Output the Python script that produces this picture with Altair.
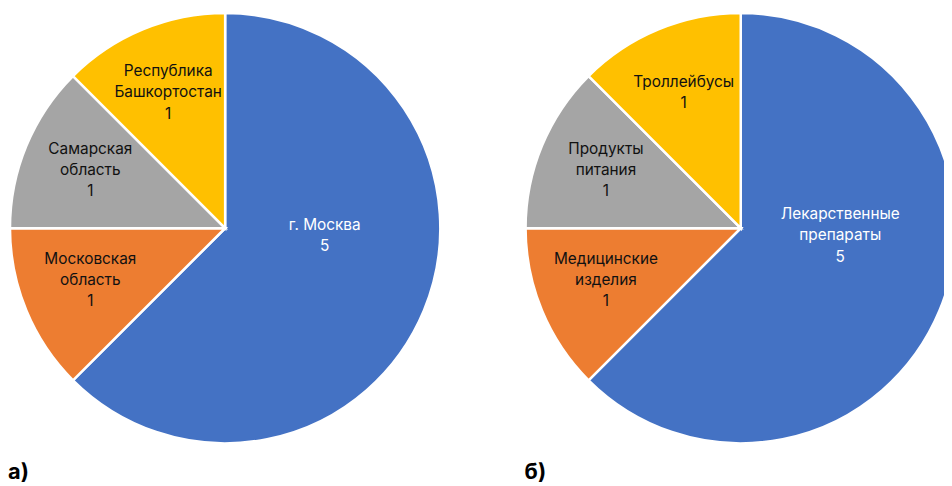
import altair as alt
import pandas as pd

# ---- data ----
cats_a = ["г. Москва", "Московская область", "Самарская область", "Республика Башкортостан"]
lines_a = ["г. Москва", "Московская\nобласть", "Самарская\nобласть", "Республика\nБашкортостан"]
vals_a = [5, 1, 1, 1]

cats_b = ["Лекарственные препараты", "Медицинские изделия", "Продукты питания", "Троллейбусы"]
lines_b = ["Лекарственные\nпрепараты", "Медицинские\nизделия", "Продукты\nпитания", "Троллейбусы"]
vals_b = [5, 1, 1, 1]

panel_letters = ["а)", "б)"]
colors = ["#4472C4", "#ED7D31", "#A5A5A5", "#FFC000"]

FONT = "Inter"
FS = 15.5
LH = 21.5


def make_df(cats, lines, vals):
    return pd.DataFrame({
        "cat": cats,
        "val": vals,
        "idx": list(range(len(cats))),
        "label": [f"{l}\n{v}" for l, v in zip(lines, vals)],
    })


def pie(df, cx, cy, big_cat):
    base = alt.Chart(df).encode(
        theta=alt.Theta("val:Q", stack=True),
        order=alt.Order("idx:Q"),
    )
    arc = base.mark_arc(x=cx, y=cy, outerRadius=217, stroke="white", strokeWidth=2.5).encode(
        color=alt.Color("cat:N", scale=alt.Scale(domain=list(df["cat"]), range=colors), legend=None)
    )
    big = base.transform_calculate(
        t=f"datum.cat == '{big_cat}' ? datum.label : ''"
    ).mark_text(
        x=cx, y=cy, radius=100, dx=8,
        dy=alt.expr(f"-31 - (length(split(datum.t, '\\n')) - 1) * {LH / 2}"),
        font=FONT, fontSize=FS, lineHeight=LH,
        color="white", lineBreak="\n", align="center", baseline="middle"
    ).encode(text="t:N")
    small = base.transform_calculate(
        t=f"datum.cat != '{big_cat}' ? datum.label : ''"
    ).mark_text(
        x=cx, y=cy, radius=145, dx=-2,
        dy=alt.expr(f"-3 - (length(split(datum.t, '\\n')) - 1) * {LH / 2}"),
        font=FONT, fontSize=FS, lineHeight=LH,
        color="#111111", lineBreak="\n", align="center", baseline="middle"
    ).encode(text="t:N")
    return alt.layer(arc, big, small)


pie_a = pie(make_df(cats_a, lines_a, vals_a), 219, 220, cats_a[0])
pie_b = pie(make_df(cats_b, lines_b, vals_b), 739, 220, cats_b[0])

letter_a = alt.Chart(pd.DataFrame({"t": [panel_letters[0]]})).mark_text(
    x=0, y=473, align="left", baseline="alphabetic", font=FONT, fontSize=22, fontWeight="bold", color="black"
).encode(text="t:N")
letter_b = alt.Chart(pd.DataFrame({"t": [panel_letters[1]]})).mark_text(
    x=521, y=473, align="left", baseline="alphabetic", font=FONT, fontSize=22, fontWeight="bold", color="black"
).encode(text="t:N")

chart = alt.layer(pie_a, pie_b, letter_a, letter_b).resolve_scale(
    theta="independent", color="independent"
).properties(
    width=944, height=478, autosize="none", padding=0, background="white"
).configure_view(stroke=None)

chart.save("out.html", embed_options={"renderer": "svg", "actions": False})
